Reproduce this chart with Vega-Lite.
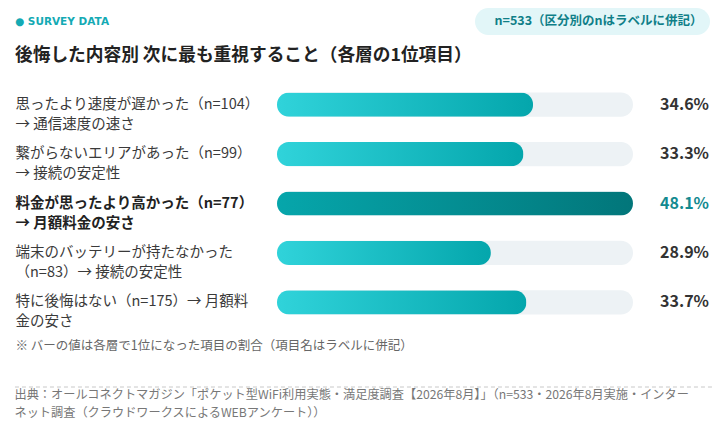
{
  "$schema": "https://vega.github.io/schema/vega-lite/v6.json",
  "background": "white",
  "padding": {"left": 14, "top": 8, "right": 9, "bottom": 5},
  "config": {
    "font": "Noto Sans CJK JP",
    "view": {"stroke": null}
  },
  "vconcat": [
    {
      "width": 432,
      "height": 247,
      "title": {
        "text": "●  SURVEY DATA",
        "subtitle": "後悔した内容別 次に最も重視すること（各層の1位項目）",
        "anchor": "start",
        "frame": "bounds",
        "font": "DejaVu Sans",
        "fontSize": 10.5,
        "fontWeight": "bold",
        "color": "#14aab4",
        "subtitleFont": "Noto Sans CJK JP",
        "subtitleFontSize": 17.7,
        "subtitleFontWeight": "bold",
        "subtitleColor": "#222222",
        "subtitlePadding": 20,
        "offset": 15
      },
      "data": {
        "values": [
          {"label": "思ったより速度が遅かった（n=104）|→ 通信速度の速さ", "share": 0.346, "highlight": false, "note": "n=533（区分別のnはラベルに併記）"},
          {"label": "繋がらないエリアがあった（n=99）|→ 接続の安定性", "share": 0.333, "highlight": false, "note": "n=533（区分別のnはラベルに併記）"},
          {"label": "料金が思ったより高かった（n=77）|→ 月額料金の安さ", "share": 0.481, "highlight": true, "note": "n=533（区分別のnはラベルに併記）"},
          {"label": "端末のバッテリーが持たなかった|（n=83）→ 接続の安定性", "share": 0.289, "highlight": false, "note": "n=533（区分別のnはラベルに併記）"},
          {"label": "特に後悔はない（n=175）→ 月額料|金の安さ", "share": 0.337, "highlight": false, "note": "n=533（区分別のnはラベルに併記）"}
        ]
      },
      "encoding": {
        "y": {
          "field": "label",
          "type": "nominal",
          "sort": null,
          "scale": {"paddingInner": 0.51, "paddingOuter": 0.255},
          "axis": {
            "title": null,
            "labelExpr": "split(datum.label, '|')",
            "labelAlign": "left",
            "labelBaseline": "middle",
            "labelPadding": 262,
            "ticks": false,
            "tickSize": 0,
            "domain": false,
            "grid": false,
            "labelFontSize": 14.5,
            "labelLineHeight": 20,
            "labelLimit": 300,
            "labelColor": {"condition": {"test": "indexof(datum.label, '料金が') === 0", "value": "#222222"}, "value": "#3a3a3a"},
            "labelFontWeight": {"condition": {"test": "indexof(datum.label, '料金が') === 0", "value": "bold"}, "value": "normal"}
          }
        }
      },
      "layer": [
        {
          "mark": {"type": "bar", "cornerRadius": 12, "fill": "#edf2f5", "strokeWidth": 0},
          "encoding": {
            "x": {
              "datum": 0,
              "type": "quantitative",
              "scale": {"domain": [0, 0.5837], "nice": false},
              "axis": {
                "title": "※ バーの値は各層で1位になった項目の割合（項目名はラベルに併記）",
                "labels": false,
                "ticks": false,
                "domain": false,
                "grid": false,
                "titleAnchor": "start",
                "titleAlign": "left",
                "titleX": -262,
                "titlePadding": 12,
                "titleFontSize": 12.5,
                "titleFontWeight": "normal",
                "titleColor": "#666666"
              }
            },
            "x2": {"datum": 0.481},
            "stroke": {
              "field": "note",
              "type": "nominal",
              "scale": {"range": ["#edf2f5"]},
              "legend": {
                "title": null,
                "orient": "none",
                "legendX": 198,
                "legendY": -72,
                "fillColor": "#e2f6f8",
                "cornerRadius": 14,
                "padding": 7,
                "labelFontSize": 12.5,
                "labelFontWeight": "bold",
                "labelColor": "#0f7f88",
                "labelFont": "Noto Sans CJK JP",
                "symbolSize": 1,
                "symbolOpacity": 0,
                "symbolStrokeWidth": 0,
                "labelOffset": 0,
                "labelLimit": 400
              }
            }
          }
        },
        {
          "transform": [{"filter": "!datum.highlight"}],
          "mark": {
            "type": "bar",
            "cornerRadius": 12,
            "fill": {"gradient": "linear", "x1": 0, "y1": 0, "x2": 1, "y2": 0,
              "stops": [{"offset": 0, "color": "#30d3da"}, {"offset": 1, "color": "#04a6ac"}]}
          },
          "encoding": {"x": {"field": "share", "type": "quantitative"}}
        },
        {
          "transform": [{"filter": "datum.highlight"}],
          "mark": {
            "type": "bar",
            "cornerRadius": 12,
            "fill": {"gradient": "linear", "x1": 0, "y1": 0, "x2": 1, "y2": 0,
              "stops": [{"offset": 0, "color": "#06a6ab"}, {"offset": 1, "color": "#02767a"}]}
          },
          "encoding": {"x": {"field": "share", "type": "quantitative"}}
        },
        {
          "mark": {"type": "text", "align": "right", "baseline": "middle", "fontSize": 16, "fontWeight": "bold"},
          "encoding": {
            "x": {"datum": 0.5837, "type": "quantitative"},
            "text": {"field": "share", "type": "quantitative", "format": ".1%"},
            "color": {"condition": {"test": "datum.highlight", "value": "#138a90"}, "value": "#333333"}
          }
        }
      ]
    },
    {
      "width": 436,
      "height": 1,
      "data": {"values": [{}]},
      "title": {
        "text": ["出典：オールコネクトマガジン「ポケット型WiFi利用実態・満足度調査【2026年8月】」（n=533・2026年8月実施・インター", "ネット調査（クラウドワークスによるWEBアンケート））"],
        "orient": "bottom",
        "anchor": "start",
        "frame": "bounds",
        "fontSize": 12.2,
        "fontWeight": "normal",
        "color": "#777777",
        "lineHeight": 18,
        "offset": 1
      },
      "mark": {"type": "rule", "strokeDash": [4, 3], "color": "#c8c8c8", "strokeWidth": 1},
      "encoding": {
        "x": {"datum": -0.601, "type": "quantitative", "scale": {"domain": [0, 1], "nice": false}, "axis": null},
        "x2": {"datum": 1},
        "y": {"datum": 0, "type": "quantitative", "scale": {"domain": [0, 1]}, "axis": null}
      }
    }
  ],
  "spacing": 34
}
